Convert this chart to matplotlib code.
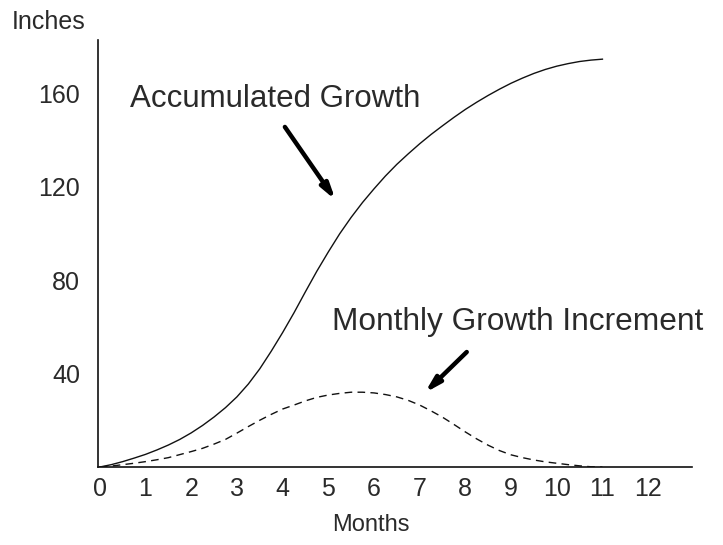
import matplotlib
matplotlib.use("Agg")
import matplotlib.pyplot as plt

# Data (quarter-month readings)
months = [0, 0.25, 0.5, 0.75, 1, 1.25, 1.5, 1.75, 2, 2.25, 2.5, 2.75, 3,
          3.25, 3.5, 3.75, 4, 4.25, 4.5, 4.75, 5, 5.25, 5.5, 5.75, 6, 6.25,
          6.5, 6.75, 7, 7.25, 7.5, 7.75, 8, 8.25, 8.5, 8.75, 9, 9.25, 9.5,
          9.75, 10, 10.25, 10.5, 10.75, 11]
accumulated = [0, 1.0, 2.3, 3.8, 5.4, 7.3, 9.4, 11.8, 14.6, 17.8, 21.4, 25.4,
               30, 35.5, 42, 49.5, 57.5, 66, 75, 83.8, 92, 99.8, 106.8, 113.2,
               119, 124.5, 129.5, 134, 138.3, 142.3, 146, 149.6, 153, 156.1,
               159, 161.7, 164.2, 166.4, 168.4, 170.1, 171.5, 172.6, 173.5,
               174.1, 174.5]
monthly = [0, 0.4, 1.0, 1.6, 2.3, 3.1, 4.0, 5.3, 6.6, 8.0, 9.8, 11.8, 14.5,
           17.3, 20, 22.5, 24.8, 26.5, 28.3, 29.8, 30.8, 31.5, 32, 32, 31.7,
           31, 30, 28.5, 26.5, 24, 21.3, 18.2, 15, 12, 9.3, 7, 5.2, 4, 3,
           2.2, 1.6, 1.0, 0.5, 0.1, 0]
x_ticks = list(range(0, 13))
y_ticks = [40, 80, 120, 160]

FONT = "Liberation Sans"
TXT = "#2a2a2a"

fig = plt.figure(figsize=(7.23, 5.45), dpi=100)
ax = fig.add_axes([98 / 723, 78 / 545, 594 / 723, 427 / 545])

ax.plot(months, accumulated, color="#111111", lw=1.0)
ax.plot(months, monthly, color="#111111", lw=1.0, linestyle=(0, (5.5, 3.8)))

ax.set_xlim(-0.04, 12.96)
ax.set_ylim(0, 182.7)

for s in ["top", "right"]:
    ax.spines[s].set_visible(False)
for s in ["left", "bottom"]:
    ax.spines[s].set_linewidth(1.2)
    ax.spines[s].set_color("#111111")

ax.set_xticks(x_ticks)
ax.set_xticklabels([str(v) for v in x_ticks], fontfamily=FONT, fontsize=18, color=TXT)
ax.set_yticks(y_ticks)
ax.set_yticklabels([str(v) for v in y_ticks], fontfamily=FONT, fontsize=18, color=TXT)
ax.tick_params(axis="x", length=0, pad=7)
ax.tick_params(axis="y", length=0, pad=13)

ax.text(0.66, 154, "Accumulated Growth", fontfamily=FONT, fontsize=22.5,
        color=TXT, ha="left", va="baseline")
ax.text(5.08, 58.6, "Monthly Growth Increment", fontfamily=FONT, fontsize=22.8,
        color=TXT, ha="left", va="baseline")

arrow_kw = dict(arrowstyle="-|>,head_length=0.9,head_width=0.25", color="black",
                lw=3.2, shrinkA=0, shrinkB=0)
ax.annotate("", xy=(5.16, 114.2), xytext=(4.05, 145.5), arrowprops=arrow_kw)
ax.annotate("", xy=(7.11, 31.7), xytext=(8.03, 49.2), arrowprops=arrow_kw)

fig.text(12 / 723, 1 - 22 / 545, "Inches", fontfamily=FONT, fontsize=18,
         color=TXT, ha="left", va="center")
fig.text(371 / 723, 1 - 525 / 545, "Months", fontfamily=FONT, fontsize=17,
         color=TXT, ha="center", va="center")

fig.savefig("out.png", dpi=100, facecolor="white")
